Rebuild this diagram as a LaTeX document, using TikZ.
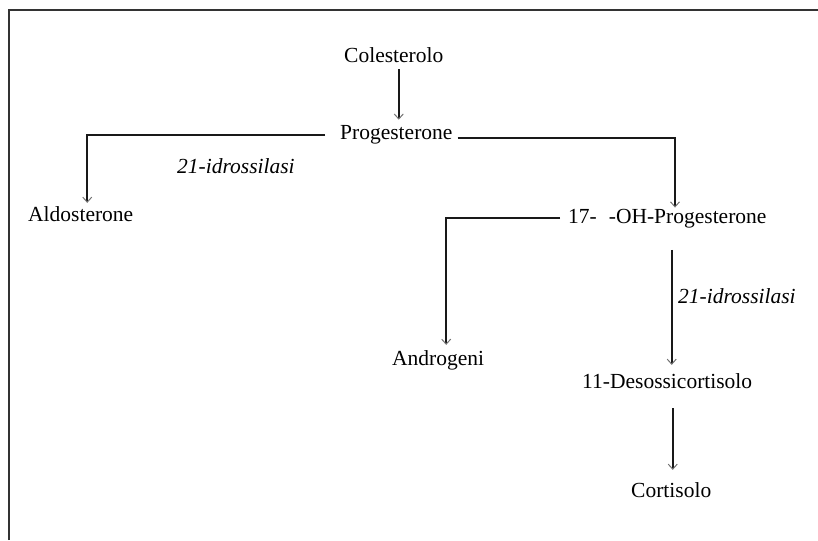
\documentclass[tikz,border=0pt]{standalone}
\usepackage{fontspec}
\setmainfont{Liberation Serif}
\usepackage{tikz}
\usetikzlibrary{arrows.meta}

\tikzset{
  pathway/.style={line width=2.2pt, draw=black!90},
  conv/.style={pathway, -{Straight Barb[length=5pt,width=9pt,line width=1pt,color=black!55]}},
  compound/.style={anchor=base west, inner sep=0pt, font=\fontsize{21.5}{26}\selectfont},
  enzyme/.style={compound, font=\fontsize{21.5}{26}\selectfont\itshape},
  frame/.style={line width=1.8pt, draw=black!80}
}

\begin{document}
\begin{tikzpicture}[x=1pt, y=-1pt]
\useasboundingbox (0,0) rectangle (818,540);

\draw[frame] (9,540) -- (9,10) -- (818,10);

\node[compound] (chol) at (344,63) {Colesterolo};
\node[compound] (prog) at (340,140) {Progesterone};
\node[compound] (aldo) at (28,221) {Aldosterone};
\node[compound] (ohp) at (568,223) {17-\hspace{12pt}-OH-Progesterone};
\node[compound] (andr) at (392,365) {Androgeni};
\node[compound] (doc) at (582,388) {11-Desossicortisolo};
\node[compound] (cort) at (631,497) {Cortisolo};

\node[enzyme] (hyd1) at (177,173) {21-idrossilasi};
\node[enzyme] (hyd2) at (678,303) {21-idrossilasi};

\draw[conv, shorten <=6pt, shorten >=6pt] ([xshift=5pt]chol.south) -- ([xshift=5pt]chol.south |- prog.north);
\draw[conv, shorten >=3pt] ([xshift=-15pt]prog.west) -| ([xshift=6.5pt]aldo.north);
\draw[conv, shorten >=1pt] ([xshift=5pt,yshift=-3pt]prog.east) -| ([xshift=107pt]ohp.north west);
\draw[conv, shorten >=5pt] ([xshift=-8pt]ohp.west) -| ([xshift=8pt]andr.north);
\draw[conv, shorten <=22pt, shorten >=8pt] ([xshift=4.5pt]doc.north |- ohp.south) -- ([xshift=4.5pt]doc.north);
\draw[conv, shorten <=20pt, shorten >=12pt] ([xshift=1.5pt]cort.north |- doc.south) -- ([xshift=1.5pt]cort.north);

\end{tikzpicture}
\end{document}
